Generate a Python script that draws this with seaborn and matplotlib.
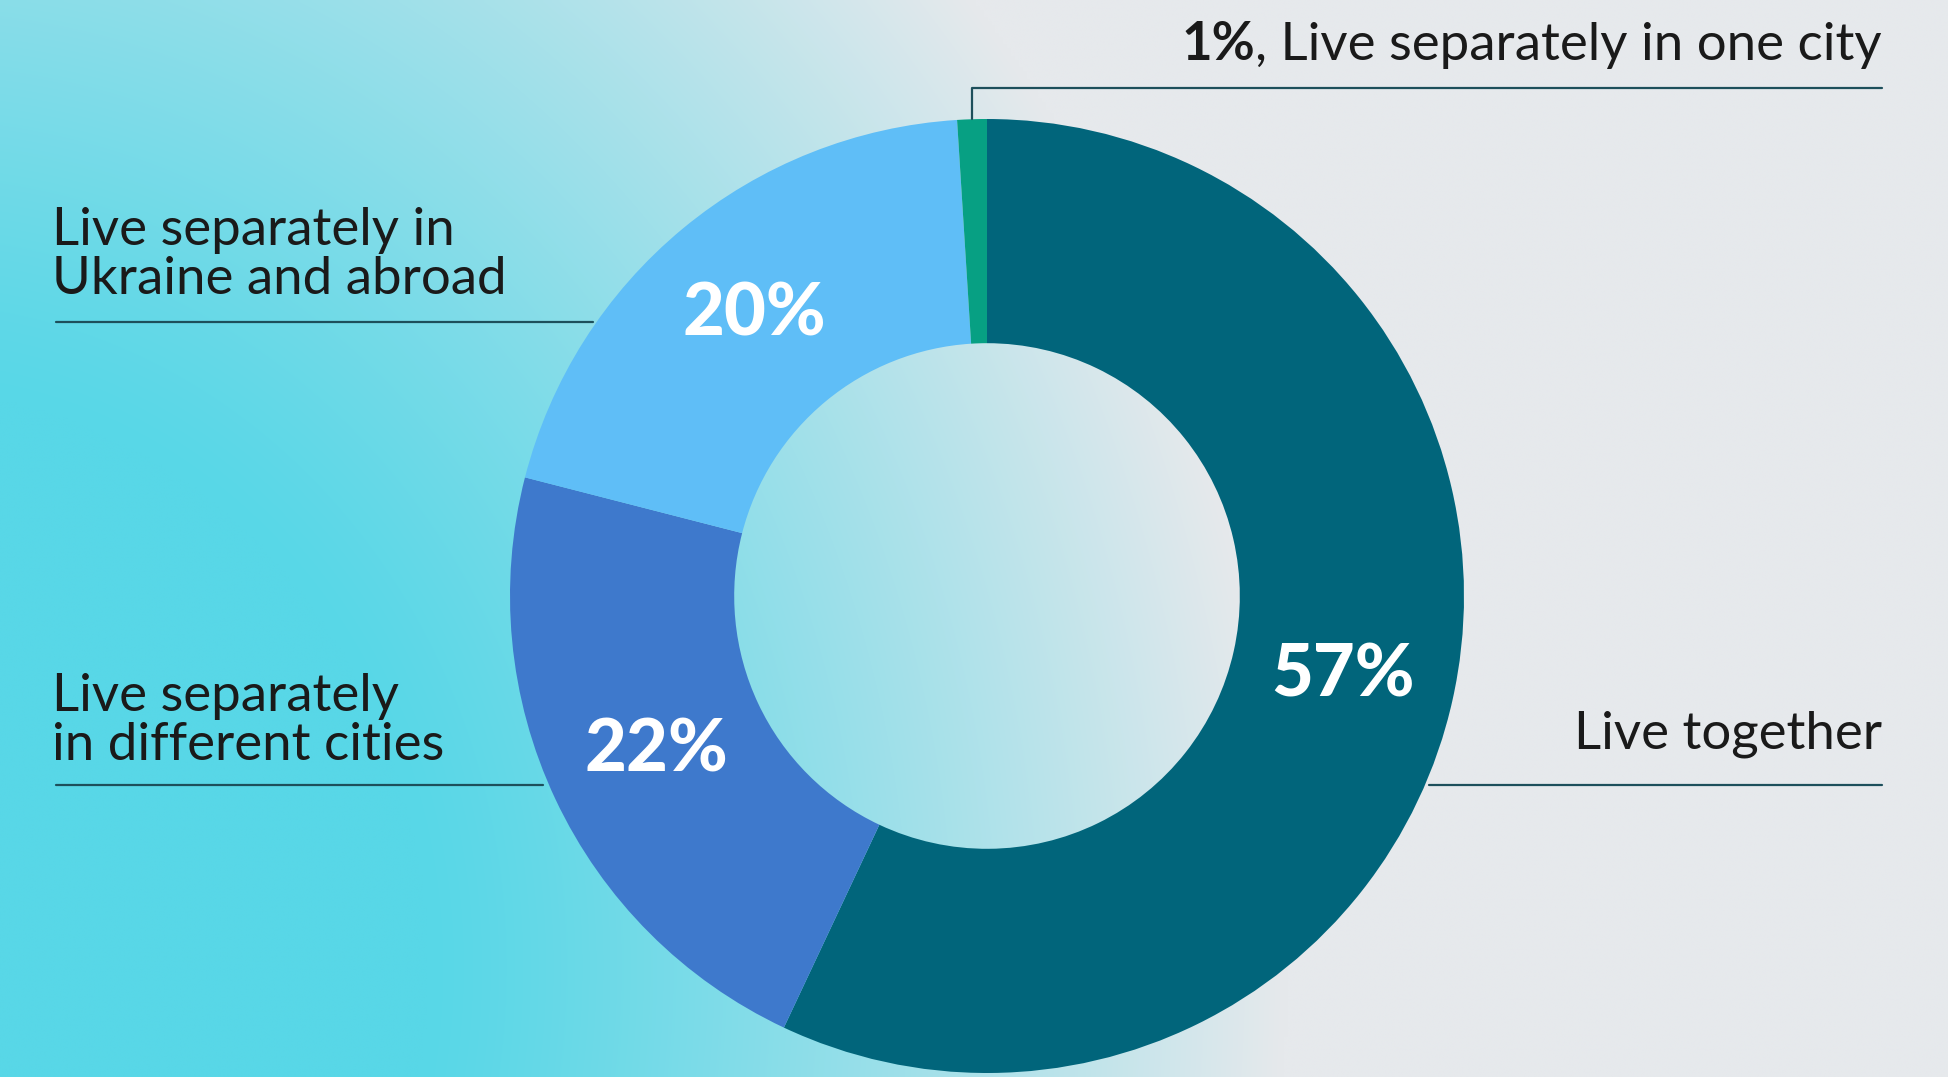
import numpy as np
import matplotlib
matplotlib.use("Agg")
import matplotlib.pyplot as plt
from matplotlib.lines import Line2D
import seaborn as sns

# Household arrangement shares (percent), clockwise from 12 o'clock
categories = [
    "Live together",
    "Live separately\nin different cities",
    "Live separately in\nUkraine and abroad",
    "Live separately in one city",
]
shares = [57, 22, 20, 1]
slice_colors = ["#01657B", "#3E79CC", "#5FBEF7", "#07A083"]

sns.set_theme(style="white")
plt.rcParams["font.family"] = ["Lato", "DejaVu Sans"]

W, H, DPI = 1948, 1077, 100
fig = plt.figure(figsize=(W / DPI, H / DPI), dpi=DPI)

# soft background: turquoise glow from the lower left fading to pale grey
bg = fig.add_axes([0, 0, 1, 1])
bg.set_axis_off()
u = np.linspace(0, 1, 500)
v = np.linspace(0, 1, 280)
U, V = np.meshgrid(u, v)
d = np.sqrt((U + 0.05) ** 2 + ((V - 0.9) / 2.0) ** 2)
t = np.clip((d - 0.27) / 0.44, 0, 1) ** 1.2
c0 = np.array([0x58, 0xD7, 0xE7]) / 255
c1 = np.array([0xE6, 0xE9, 0xEC]) / 255
img = c0 + (c1 - c0) * t[..., None]
bg.imshow(img, extent=[0, 1, 0, 1], origin="upper", aspect="auto",
          interpolation="bilinear")
bg.set_xlim(0, 1)
bg.set_ylim(0, 1)

# donut
cx, cy, R = 987, 596, 477
ax = fig.add_axes([(cx - R) / W, (H - cy - R) / H, 2 * R / W, 2 * R / H])
ring = 0.47
wedges, _ = ax.pie(shares, colors=slice_colors, startangle=90, counterclock=False,
                   radius=1, wedgeprops=dict(width=ring, linewidth=0))
ax.set_xlim(-1, 1)
ax.set_ylim(-1, 1)
ax.set_aspect("equal")
ax.set_axis_off()

for w, val in zip(wedges, shares):
    if val < 5:
        continue
    th = np.deg2rad((w.theta1 + w.theta2) / 2)
    r = 1 - ring / 2
    ax.text(r * np.cos(th), r * np.sin(th), f"{val}%", ha="center", va="center",
            color="white", fontsize=52, fontweight="black")

line_color = "#1D4F5B"
text_color = "#1A1A1A"
lab_fs = 38


def fx(px):
    return px / W


def fy(py):
    return 1 - py / H


def hline(x0, x1, y):
    fig.add_artist(Line2D([fx(x0), fx(x1)], [fy(y), fy(y)], color=line_color,
                          lw=1.6, transform=fig.transFigure))


# small slice: label at top right with elbow leader
small = wedges[3]
th = np.deg2rad((small.theta1 + small.theta2) / 2)
edge_x = cx + R * np.cos(th)
edge_y = cy - R * np.sin(th)
fig.add_artist(Line2D([fx(edge_x), fx(edge_x), fx(1882)],
                      [fy(edge_y), fy(88), fy(88)], color=line_color, lw=1.6,
                      transform=fig.transFigure))
t_small = fig.text(fx(1882), fy(60), ", " + categories[3], ha="right",
                   va="baseline", fontsize=lab_fs, color=text_color)
fig.canvas.draw()
bb = t_small.get_window_extent()
fig.text(bb.x0 / W, fy(60), f"{shares[3]}%", ha="right", va="baseline",
         fontsize=lab_fs, fontweight="bold", color=text_color)

# left labels
fig.text(fx(52), fy(294), categories[2], ha="left", va="baseline",
         fontsize=lab_fs, color=text_color, linespacing=1.05)
hline(56, 593, 322)
fig.text(fx(52), fy(760), categories[1], ha="left", va="baseline",
         fontsize=lab_fs, color=text_color, linespacing=1.05)
hline(56, 543, 785)

# right label
fig.text(fx(1882), fy(748), categories[0], ha="right", va="baseline",
         fontsize=lab_fs, color=text_color)
hline(1429, 1882, 785)

fig.savefig("out.png", dpi=DPI)
